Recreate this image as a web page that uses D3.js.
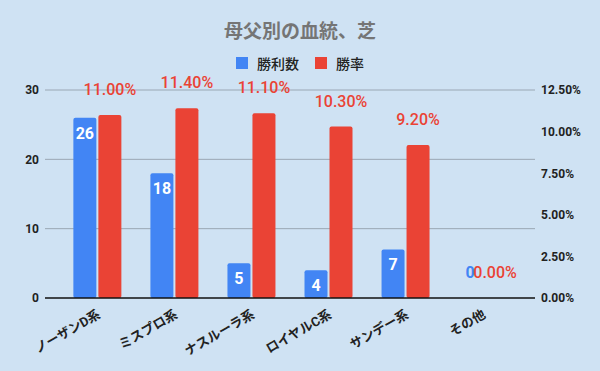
<!DOCTYPE html>
<html>
<head>
<meta charset="utf-8">
<script src="https://cdn.jsdelivr.net/npm/d3@7"></script>
<style>
  body { margin: 0; background: #cfe2f3; }
  svg { display: block; font-family: Roboto, "Noto Sans CJK JP", sans-serif; }
</style>
</head>
<body>
<svg id="chart" width="600" height="371"></svg>
<script>
// chart data
var categories = ["ノーザンD系", "ミスプロ系", "ナスルーラ系", "ロイヤルC系", "サンデー系", "その他"];
var wins = [26, 18, 5, 4, 7, 0];
var rates = [11.0, 11.4, 11.1, 10.3, 9.2, 0.0];
var leftTicks = [0, 10, 20, 30];
var rightTicks = [0, 2.5, 5, 7.5, 10, 12.5];
var seriesNames = ["勝利数", "勝率"];
var colors = ["#4285f4", "#ea4335"];

var svg = d3.select("#chart");
var width = 600, height = 371;
var plot = {left: 45, right: 535, top: 90, bottom: 298};

svg.append("rect")
    .attr("width", width)
    .attr("height", height)
    .attr("fill", "#cfe2f3");

var x0 = d3.scaleBand()
    .domain(categories)
    .range([plot.left, plot.right])
    .paddingOuter(0.18)
    .paddingInner(0);

var x1 = d3.scaleBand()
    .domain([0, 1])
    .range([14.5, 62.5])
    .paddingInner(0.08);

var yLeft = d3.scaleLinear().domain([0, 30]).range([plot.bottom, plot.top]);
var yRight = d3.scaleLinear().domain([0, 12.5]).range([plot.bottom, plot.top]);

// title
svg.append("text")
    .attr("x", 300)
    .attr("y", 38)
    .attr("text-anchor", "middle")
    .attr("font-size", 19)
    .attr("font-weight", "bold")
    .attr("fill", "#757575")
    .text("母父別の血統、芝");

// legend
var legendX = [236, 315];
seriesNames.forEach(function (name, i) {
    svg.append("rect")
        .attr("x", legendX[i])
        .attr("y", 57)
        .attr("width", 12)
        .attr("height", 12)
        .attr("fill", colors[i]);
    svg.append("text")
        .attr("x", legendX[i] + 21)
        .attr("y", 68.5)
        .attr("font-size", 14)
        .attr("font-weight", 500)
        .attr("fill", "#222")
        .text(name);
});

// gridlines
svg.append("g")
    .selectAll("line")
    .data(leftTicks.filter(function (d) { return d > 0; }))
    .enter().append("line")
    .attr("x1", plot.left)
    .attr("x2", plot.right)
    .attr("y1", function (d) { return yLeft(d); })
    .attr("y2", function (d) { return yLeft(d); })
    .attr("stroke", "#9aa7b4")
    .attr("stroke-width", 1);

// left axis
var leftAxis = svg.append("g")
    .attr("transform", "translate(" + plot.left + ",0)")
    .call(d3.axisLeft(yLeft).tickValues(leftTicks).tickSize(0).tickPadding(6));
leftAxis.select(".domain").remove();
leftAxis.selectAll("text")
    .attr("font-size", 12)
    .attr("font-weight", "bold")
    .attr("fill", "#222")
    .style("font-family", "Roboto, sans-serif");

// right axis
var rightAxis = svg.append("g")
    .attr("transform", "translate(" + plot.right + ",0)")
    .call(d3.axisRight(yRight).tickValues(rightTicks).tickSize(0).tickPadding(6)
        .tickFormat(function (d) { return d3.format(".2f")(d) + "%"; }));
rightAxis.select(".domain").remove();
rightAxis.selectAll("text")
    .attr("font-size", 12)
    .attr("font-weight", "bold")
    .attr("fill", "#222")
    .style("font-family", "Roboto, sans-serif");

// bars
var groups = svg.append("g")
    .selectAll("g")
    .data(categories)
    .enter().append("g")
    .attr("transform", function (d) { return "translate(" + x0(d) + ",0)"; });

groups.append("rect")
    .filter(function (d, i) { return wins[i] > 0; })
    .attr("x", x1(0))
    .attr("width", x1.bandwidth())
    .attr("y", function (d) { return yLeft(wins[categories.indexOf(d)]); })
    .attr("height", function (d) { return plot.bottom - yLeft(wins[categories.indexOf(d)]); })
    .attr("rx", 2)
    .attr("fill", colors[0]);

groups.append("rect")
    .filter(function (d, i) { return rates[i] > 0; })
    .attr("x", x1(1))
    .attr("width", x1.bandwidth())
    .attr("y", function (d) { return yRight(rates[categories.indexOf(d)]); })
    .attr("height", function (d) { return plot.bottom - yRight(rates[categories.indexOf(d)]); })
    .attr("rx", 2)
    .attr("fill", colors[1]);

// baseline
svg.append("line")
    .attr("x1", plot.left)
    .attr("x2", plot.right)
    .attr("y1", plot.bottom)
    .attr("y2", plot.bottom)
    .attr("stroke", "#111")
    .attr("stroke-width", 1.5);

// win labels (inside bar, or above when zero)
groups.append("text")
    .attr("x", x1(0) + x1.bandwidth() / 2)
    .attr("y", function (d, i) {
        return wins[i] > 0 ? yLeft(wins[i]) + 21 : plot.bottom - 20;
    })
    .attr("text-anchor", "middle")
    .attr("font-size", 16)
    .attr("font-weight", "bold")
    .attr("fill", function (d, i) { return wins[i] > 0 ? "#fff" : colors[0]; })
    .text(function (d, i) { return wins[i]; });

// rate labels above bars
groups.append("text")
    .attr("x", x1(1) + x1.bandwidth() / 2)
    .attr("y", function (d, i) { return yRight(rates[i]) - 20; })
    .attr("text-anchor", "middle")
    .attr("font-size", 16)
    .attr("font-weight", 500)
    .attr("fill", colors[1])
    .text(function (d, i) { return d3.format(".2f")(rates[i]) + "%"; });

// category labels
svg.append("g")
    .selectAll("text")
    .data(categories)
    .enter().append("text")
    .attr("transform", function (d) {
        return "translate(" + (x0(d) + x0.bandwidth() / 2 + 4) + ",317) rotate(-30)";
    })
    .attr("text-anchor", "end")
    .attr("font-size", 13)
    .attr("font-weight", "bold")
    .attr("fill", "#222")
    .text(function (d) { return d; });
</script>
</body>
</html>
